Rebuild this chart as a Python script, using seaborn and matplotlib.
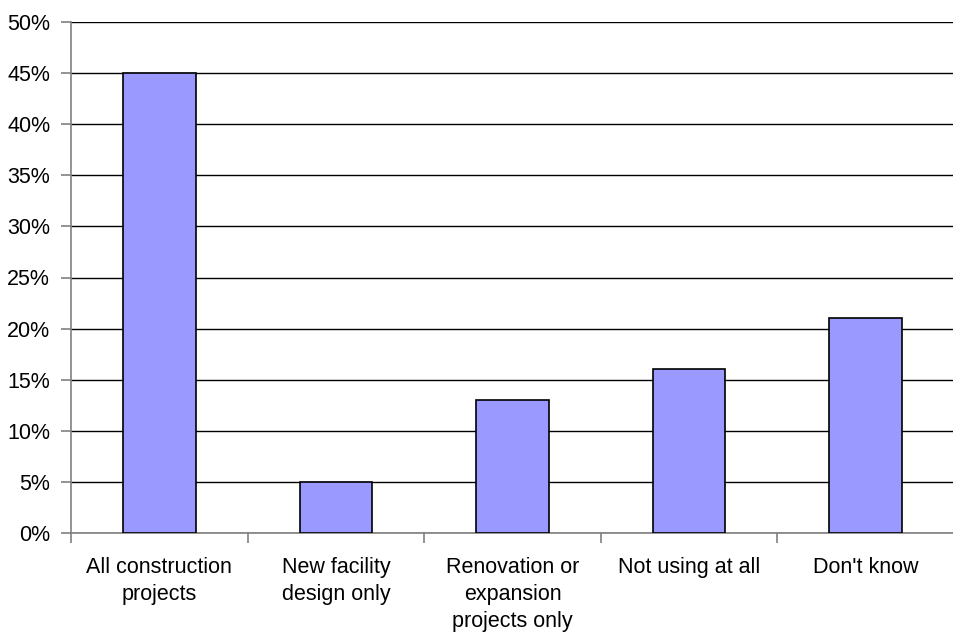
import matplotlib
matplotlib.use("Agg")
import matplotlib.pyplot as plt
import seaborn as sns
import pandas as pd
from matplotlib.ticker import FuncFormatter, MultipleLocator

categories = [
    "All construction\nprojects",
    "New facility\ndesign only",
    "Renovation or\nexpansion\nprojects only",
    "Not using at all",
    "Don't know",
]
shares = [45, 5, 13, 16, 21]

df = pd.DataFrame({"category": categories, "share": shares})

sns.set_theme(style="white")
plt.rcParams["font.family"] = ["Liberation Sans", "DejaVu Sans"]

fig = plt.figure(figsize=(9.54, 6.35), dpi=100)
ax = fig.add_axes([71 / 954, 1 - 533 / 635, 1 - 71 / 954, (533 - 22) / 635])

sns.barplot(data=df, x="category", y="share", ax=ax, color="#9999FF",
            saturation=1, width=0.41, edgecolor="black", linewidth=1.2,
            zorder=3)

ax.set_ylim(0, 50)
ax.set_xlim(-0.5, 4.5 - 10 / 179)
ax.yaxis.set_major_locator(MultipleLocator(5))
ax.yaxis.set_major_formatter(FuncFormatter(lambda v, _: f"{v:.0f}%"))
ax.grid(axis="y", color="black", linewidth=1.0, zorder=0)
ax.set_axisbelow(True)

for side in ("top", "right"):
    ax.spines[side].set_visible(False)
for side in ("left", "bottom"):
    ax.spines[side].set_color("#808080")
    ax.spines[side].set_linewidth(1.2)

ax.set_xlabel("")
ax.set_ylabel("")
ax.set_xticks([i for i in range(5)])
ax.set_xticklabels(categories, fontsize=15.5, color="black", linespacing=1.4)
ax.tick_params(axis="x", length=0, pad=17)
ax.tick_params(axis="y", length=7, width=1.2, color="#808080",
               labelsize=15.5, labelcolor="black", pad=8, left=True)
# category boundary ticks below the axis
ax.set_xticks([i + 0.5 for i in range(-1, 5)], minor=True)
ax.tick_params(axis="x", which="minor", length=7, width=1.2,
               color="#808080", bottom=True)

fig.savefig("out.png", dpi=100)
